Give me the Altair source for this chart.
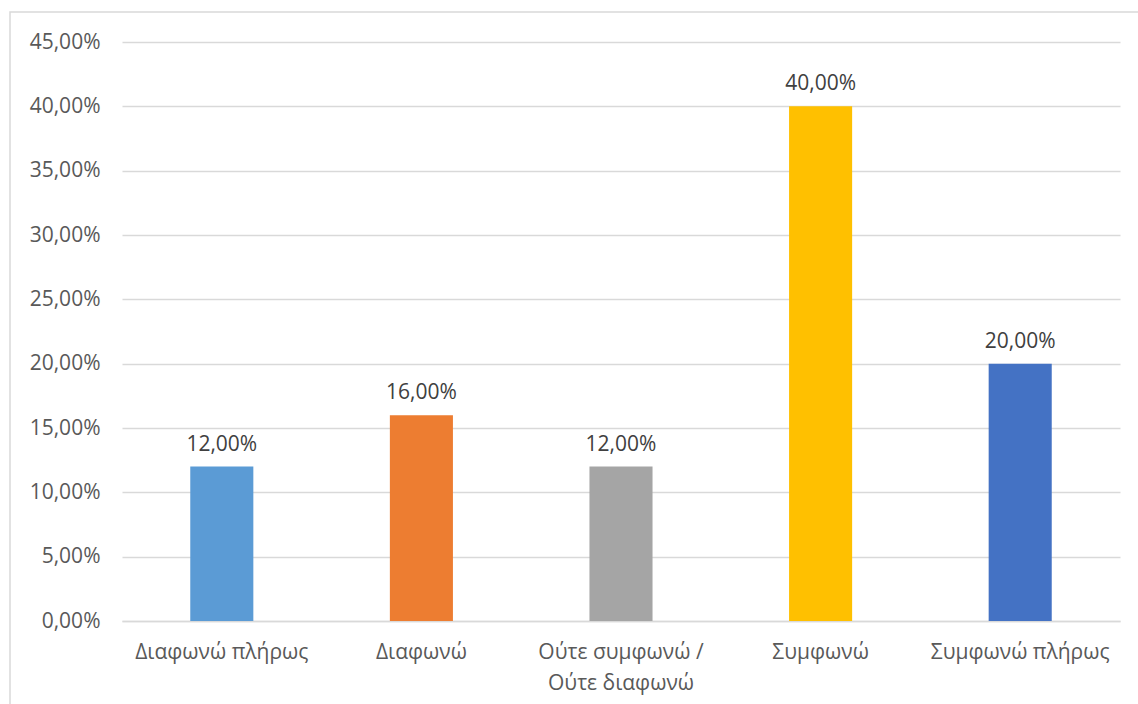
import altair as alt
import pandas as pd

categories = ["Διαφωνώ πλήρως", "Διαφωνώ", "Ούτε συμφωνώ /\nΟύτε διαφωνώ", "Συμφωνώ", "Συμφωνώ πλήρως"]
values = [0.12, 0.16, 0.12, 0.40, 0.20]
colors = ["#5B9BD5", "#ED7D31", "#A5A5A5", "#FFC000", "#4472C4"]
y_ticks = [0, 0.05, 0.10, 0.15, 0.20, 0.25, 0.30, 0.35, 0.40, 0.45]

df = pd.DataFrame({"cat": categories, "val": values, "color": colors})

FONT = "Open Sans"
TXT = "#595959"
FS = 21

x_enc = alt.X("cat:N", sort=categories, title=None,
              scale=alt.Scale(paddingInner=0.684, paddingOuter=0.342),
              axis=alt.Axis(labelAngle=0, labelFont=FONT, labelFontSize=FS, labelColor=TXT,
                            labelExpr="split(datum.label, '\\n')", labelLineHeight=31,
                            labelPadding=20, ticks=False, domainColor="#D9D9D9", domainWidth=1.5,
                            grid=False, labelLimit=300))
y_enc = alt.Y("val:Q", title=None,
              scale=alt.Scale(domain=[0, 0.45], nice=False),
              axis=alt.Axis(values=y_ticks, labelFont=FONT, labelFontSize=FS, labelColor=TXT,
                            labelExpr="replace(format(datum.value, '.2%'), '.', ',')",
                            labelPadding=22, ticks=False, domain=False,
                            gridColor="#D9D9D9", gridWidth=1.5))

bars = alt.Chart(df).mark_bar().encode(
    x=x_enc, y=y_enc,
    color=alt.Color("color:N", scale=None),
)

labels = alt.Chart(df).mark_text(baseline="bottom", dy=-12, font=FONT, fontSize=FS, color="#404040").encode(
    x=alt.X("cat:N", sort=categories),
    y="val:Q",
    text=alt.Text("lbl:N"),
).transform_calculate(lbl="replace(format(datum.val, '.2%'), '.', ',')")

border = alt.Chart(pd.DataFrame({"a": [0]})).mark_rect(
    fill=None, stroke="#D9D9D9", strokeWidth=1.5, clip=False
).encode(
    x=alt.value(-112), x2=alt.value(1030), y=alt.value(-30), y2=alt.value(100 + 579)
)

chart = alt.layer(border, bars, labels).properties(
    width=998, height=579,
    autosize=alt.AutoSizeParams(type="none"),
    padding={"left": 122, "top": 42, "right": 18, "bottom": 83},
).configure_view(stroke=None)

chart.save("out.html", embed_options={"renderer": "svg", "actions": False})
